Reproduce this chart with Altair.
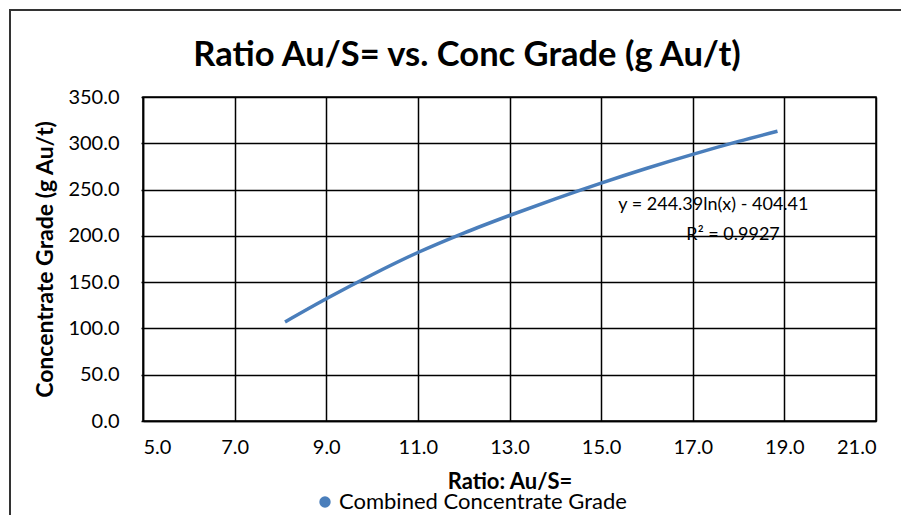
import altair as alt
import pandas as pd

# Values
ratio = [8.1, 9.0, 10.0, 11.0, 12.0, 13.0, 14.0, 15.0, 16.0, 17.0, 18.0, 18.85]
grade = [107, 132, 158, 182, 203, 222, 240, 257, 273, 288, 302, 313]
series_name = "Combined Concentrate Grade"
chart_title = "Ratio Au/S= vs. Conc Grade (g Au/t)"
x_ticks = [5, 7, 9, 11, 13, 15, 17, 19, 21]
y_ticks = [0, 50, 100, 150, 200, 250, 300, 350]
eq_lines = ["y = 244.39ln(x) - 404.41", "R² = 0.9927"]
eq_x = [17.45, 17.88]
eq_y = [233, 201]

FONT = "Lato"
BLUE = "#4A7EBB"

df = pd.DataFrame({"x": ratio, "y": grade, "s": [series_name] * len(ratio)})
ann = pd.DataFrame({"x": eq_x, "y": eq_y, "t": eq_lines})
ttl = pd.DataFrame({"t": [chart_title]})

xscale = alt.Scale(domain=[5, 21], nice=False, zero=False)
yscale = alt.Scale(domain=[0, 350], nice=False)

line = alt.Chart(df).mark_line(strokeWidth=3.5, interpolate="monotone").encode(
    x=alt.X("x:Q", scale=xscale,
            axis=alt.Axis(values=x_ticks, format=".1f", title="Ratio: Au/S=",
                          grid=True, ticks=False, labelPadding=16, titlePadding=14,
                          titleFontSize=22)),
    y=alt.Y("y:Q", scale=yscale,
            axis=alt.Axis(values=y_ticks, format=".1f", title="Concentrate Grade (g Au/t)",
                          grid=True, ticks=True, tickSize=2, labelPadding=22, titlePadding=10,
                          titleFontSize=23)),
    color=alt.Color("s:N", scale=alt.Scale(range=[BLUE]),
                    legend=alt.Legend(title=None, orient="none", legendX=171, legendY=394,
                                      symbolType="circle", symbolSize=130,
                                      symbolFillColor=BLUE, symbolStrokeColor=BLUE,
                                      symbolStrokeWidth=0, labelFontSize=22, labelFont=FONT,
                                      labelColor="#000000", labelOffset=3, labelLimit=500)),
)

text = alt.Chart(ann).mark_text(font=FONT, fontSize=18, color="#000000").encode(
    x=alt.X("x:Q", scale=xscale),
    y=alt.Y("y:Q", scale=yscale),
    text="t:N",
)

title_mark = alt.Chart(ttl).mark_text(
    font=FONT, fontSize=34.5, fontWeight="bold", color="#000000",
    align="center", baseline="alphabetic",
).encode(x=alt.value(324), y=alt.value(-31), text="t:N")

# outer chart frame (only its left and top edges fall inside the picture)
frame = alt.Chart(ttl).mark_rect(fillOpacity=0, stroke="#333333", strokeWidth=2).encode(
    x=alt.value(-133), x2=alt.value(820), y=alt.value(-87), y2=alt.value(520))

chart = alt.layer(frame, title_mark, line, text).properties(
    width=733, height=324,
    autosize=alt.AutoSizeParams(type="none"),
    padding={"left": 135, "top": 89, "right": 25, "bottom": 94},
).configure_axis(
    labelFont=FONT, labelFontSize=20, labelColor="#000000",
    titleFont=FONT, titleFontWeight="bold", titleColor="#000000",
    gridColor="#000000", gridWidth=1.5, gridOpacity=1,
    domainColor="#000000", domainWidth=1.5, tickColor="#000000", tickWidth=1.5,
).configure_view(stroke="#000000", strokeWidth=1.5)

chart.save("out.html", embed_options={"renderer": "svg", "actions": False})
